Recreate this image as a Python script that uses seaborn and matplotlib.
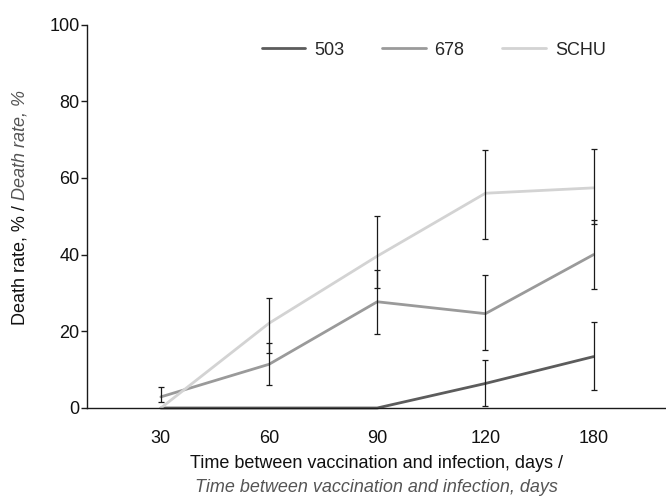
import numpy as np
import pandas as pd
import matplotlib
matplotlib.use("Agg")
import matplotlib.pyplot as plt
import seaborn as sns

days = ["30", "60", "90", "120", "180"]
series = ["503", "678", "SCHU"]

v503 = [0.0, 0.0, 0.0, 6.4, 13.4]
lo503 = [np.nan, np.nan, np.nan, 0.4, 4.7]
hi503 = [np.nan, np.nan, np.nan, 12.4, 22.5]

v678 = [2.9, 11.4, 27.7, 24.6, 40.0]
lo678 = [1.6, 6.0, 19.2, 15.1, 31.1]
hi678 = [5.4, 16.9, 36.1, 34.8, 48.9]

vschu = [0.0, 22.1, 39.6, 56.0, 57.4]
loschu = [np.nan, 14.3, 31.4, 44.0, 48.1]
hischu = [np.nan, 28.6, 50.1, 67.3, 67.6]

colors = {"503": "#5c5c5c", "678": "#9a9a9a", "SCHU": "#d3d3d3"}

sns.set_theme(style="white")
plt.rcParams["font.family"] = ["Liberation Sans Narrow", "Liberation Sans", "DejaVu Sans"]

values = {"503": v503, "678": v678, "SCHU": vschu}
lows = {"503": lo503, "678": lo678, "SCHU": loschu}
highs = {"503": hi503, "678": hi678, "SCHU": hischu}

rows = []
for s in series:
    for d, v in zip(days, values[s]):
        rows.append({"days": d, "rate": v, "strain": s})
df = pd.DataFrame(rows)

fig = plt.figure(figsize=(6.66, 4.97), dpi=100)
ax = fig.add_axes([87.3 / 666, 1 - 408 / 497, (665 - 87.3) / 666, (408 - 24.5) / 497])

sns.lineplot(data=df, x="days", y="rate", hue="strain", palette=colors,
             hue_order=series, linewidth=2.0, ax=ax, errorbar=None, sort=False)
for ln in ax.get_lines():
    ln.set_clip_on(False)

pos = np.arange(len(days))
for s in series:
    v = np.array(values[s])
    lo = np.array(lows[s])
    hi = np.array(highs[s])
    m = ~np.isnan(lo)
    ax.errorbar(pos[m], v[m], yerr=[v[m] - lo[m], hi[m] - v[m]], fmt="none",
                ecolor="#1a1a1a", elinewidth=0.9, capsize=2.2, capthick=0.9,
                zorder=5, clip_on=False)

ax.set_xlim(-0.68, 4.66)
ax.set_ylim(0, 100)
ax.set_yticks([0, 20, 40, 60, 80, 100])
ax.set_xticks(pos)
ax.set_xticklabels(days)
ax.set_xlabel("")
ax.set_ylabel("")
for side in ["top", "right"]:
    ax.spines[side].set_visible(False)
for side in ["left", "bottom"]:
    ax.spines[side].set_color("#1a1a1a")
    ax.spines[side].set_linewidth(1.0)
ax.tick_params(axis="y", which="both", left=True, length=4, width=1.0,
               color="#1a1a1a", pad=1.5, labelsize=13, labelcolor="#111111")
ax.tick_params(axis="x", which="both", bottom=False, length=0, pad=16,
               labelsize=13, labelcolor="#111111")

leg = ax.legend(loc="center left", bbox_to_anchor=(0.302, 0.933), ncol=3,
                frameon=False, fontsize=13, handlelength=2.4, handletextpad=0.5,
                columnspacing=2.1, borderpad=0, borderaxespad=0)
for h in leg.get_lines():
    h.set_linewidth(2.0)

# x label (two lines)
fig.text(376 / 666, 1 - 463 / 497, "Time between vaccination and infection, days /",
         ha="center", va="center", fontsize=13, color="#111111")
fig.text(376 / 666, 1 - 487 / 497, "Time between vaccination and infection, days",
         ha="center", va="center", fontsize=13, color="#555555", style="italic")

# y label (mixed styles)
t1 = fig.text(20 / 666, 1 - 325 / 497, "Death rate, % / ", rotation=90,
              rotation_mode="anchor", ha="left", va="center", fontsize=13,
              color="#111111")
fig.canvas.draw()
bb = t1.get_window_extent(renderer=fig.canvas.get_renderer())
ytop = bb.y1 / fig.dpi / fig.get_figheight()
fig.text(20 / 666, ytop, "Death rate, %", rotation=90, rotation_mode="anchor",
         ha="left", va="center", fontsize=13, color="#555555", style="italic")

fig.savefig("out.png", dpi=100)
